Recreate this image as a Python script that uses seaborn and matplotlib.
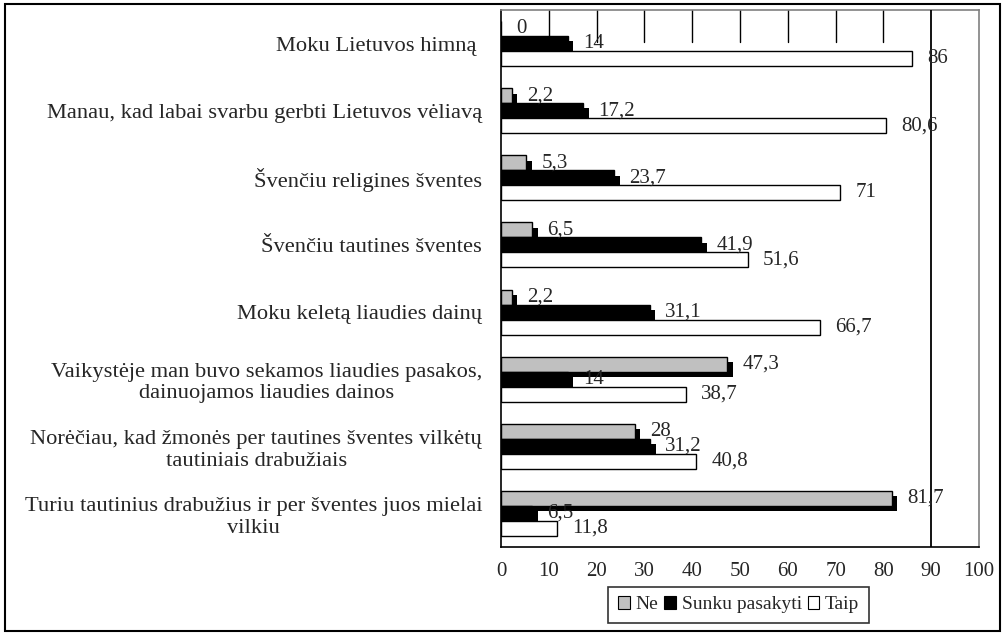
import pandas as pd
import seaborn as sns
import matplotlib.pyplot as plt
from matplotlib import patheffects as pe
from matplotlib.patches import Patch, Rectangle

### data
categories = [
    "Moku Lietuvos himną ",
    "Manau, kad labai svarbu gerbti Lietuvos vėliavą",
    "Švenčiu religines šventes",
    "Švenčiu tautines šventes",
    "Moku keletą liaudies dainų",
    "Vaikystėje man buvo sekamos liaudies pasakos,\ndainuojamos liaudies dainos",
    "Norėčiau, kad žmonės per tautines šventes vilkėtų\ntautiniais drabužiais",
    "Turiu tautinius drabužius ir per šventes juos mielai\nvilkiu",
]
series_names = ["Ne", "Sunku pasakyti", "Taip"]
ne_values = [0, 2.2, 5.3, 6.5, 2.2, 47.3, 28, 81.7]
sunku_values = [14, 17.2, 23.7, 41.9, 31.1, 14, 31.2, 6.5]
taip_values = [86, 80.6, 71, 51.6, 66.7, 38.7, 40.8, 11.8]
x_ticks = [0, 10, 20, 30, 40, 50, 60, 70, 80, 90, 100]

colors = {"Ne": "#c0c0c0", "Sunku pasakyti": "#000000", "Taip": "#ffffff"}

rows = []
for name, vals in zip(series_names, [ne_values, sunku_values, taip_values]):
    for cat, v in zip(categories, vals):
        rows.append({"kategorija": cat, "reiksme": v, "atsakymas": name})
df = pd.DataFrame(rows)

sns.set_style("white")
plt.rcParams["font.family"] = ["Liberation Serif", "DejaVu Serif"]
plt.rcParams["font.size"] = 15

fig = plt.figure(figsize=(10.05, 6.35), dpi=100)
ax = fig.add_axes([0.4985, 0.1386, 0.4756, 0.8456])

sns.barplot(data=df, y="kategorija", x="reiksme", hue="atsakymas", orient="h",
            hue_order=series_names, palette=colors, width=0.67,
            edgecolor="black", linewidth=1, ax=ax, legend=False, zorder=3)

# shadows on the first two series (like the Excel original)
for container in ax.containers[:2]:
    for bar in container:
        bar.set_path_effects([pe.withSimplePatchShadow(offset=(4, -3.8),
                                                       shadow_rgbFace="black", alpha=1)])

# value labels with decimal comma
def fmt(v):
    s = f"{v:g}"
    return s.replace(".", ",")

for container, vals in zip(ax.containers, [ne_values, sunku_values, taip_values]):
    ax.bar_label(container, labels=[fmt(v) for v in vals], padding=11,
                 fontsize=15, zorder=6)

ax.set_xlim(0, 100)
ax.set_ylim(len(categories) - 0.5, -0.5)
ax.set_xticks(x_ticks)
ax.set_yticks(range(len(categories)))
ax.set_yticklabels(categories, multialignment="center", fontsize=16.2)
ax.set_yticks([i - 0.5 for i in range(len(categories) + 1)], minor=True)
ax.tick_params(axis="y", which="major", length=0, pad=13.5)
ax.tick_params(axis="y", which="minor", length=5, width=1, color="black", direction="out")
ax.tick_params(axis="x", length=5, width=1, color="black", direction="out", labelsize=15, pad=6)
ax.set_xlabel("")
ax.set_ylabel("")

for side in ["left", "bottom"]:
    ax.spines[side].set_color("black")
    ax.spines[side].set_linewidth(1.2)
for side in ["top", "right"]:
    ax.spines[side].set_color("#808080")
    ax.spines[side].set_linewidth(1.2)

# leftover grid stubs at the top and the line at 90
for t in x_ticks[1:9]:
    ax.axvline(t, ymin=0.94, ymax=1, color="black", linewidth=1, zorder=1)
ax.axvline(90, color="black", linewidth=1.3, zorder=5)

handles = [Patch(facecolor=colors[n], edgecolor="black", linewidth=0.8) for n in series_names]
leg = fig.legend(handles, series_names, loc="upper center", ncol=3,
                 bbox_to_anchor=(0.735, 0.076), bbox_transform=fig.transFigure,
                 frameon=True, fancybox=False, fontsize=14, handlelength=0.6,
                 handleheight=0.6, handletextpad=0.3, columnspacing=0.3,
                 borderpad=0.5, borderaxespad=0)
leg.get_frame().set_edgecolor("black")
leg.get_frame().set_linewidth(1.2)

fig.patches.append(Rectangle((0.005, 0.006), 0.99, 0.988, transform=fig.transFigure,
                             fill=False, edgecolor="black", linewidth=1.5))

fig.savefig("out.png", dpi=100)
